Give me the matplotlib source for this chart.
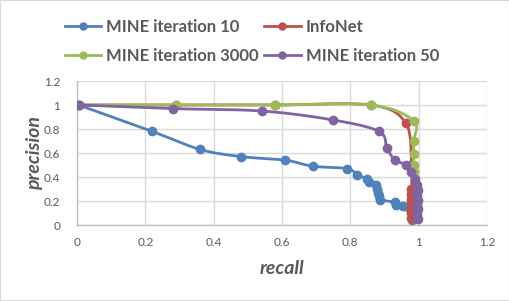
import numpy as np
import matplotlib
matplotlib.use("Agg")
import matplotlib.pyplot as plt
from matplotlib.lines import Line2D
from matplotlib.patches import Rectangle

# ---- data ----
blue_x = [0.005, 0.22, 0.36, 0.48, 0.61, 0.69, 0.79, 0.82, 0.85, 0.855, 0.875, 0.878,
          0.88, 0.885, 0.888, 0.93, 0.935, 0.955, 0.97, 0.98, 0.98, 0.98]
blue_y = [1.0, 0.78, 0.63, 0.57, 0.54, 0.49, 0.47, 0.42, 0.38, 0.36, 0.33, 0.30,
          0.27, 0.24, 0.21, 0.19, 0.17, 0.16, 0.15, 0.10, 0.07, 0.04]

red_x = [0.005, 0.29, 0.58, 0.86, 0.962, 0.979, 0.979, 0.979, 0.979, 0.979, 0.979, 0.979, 0.979]
red_y = [1.0, 1.0, 1.0, 1.0, 0.85, 0.50, 0.30, 0.26, 0.22, 0.18, 0.14, 0.10, 0.06]

green_x = [0.005, 0.29, 0.58, 0.86, 0.985, 0.985, 0.985, 0.985, 0.985]
green_y = [1.0, 1.0, 1.0, 1.0, 0.87, 0.70, 0.59, 0.50, 0.445]

purple_x = [0.005, 0.28, 0.54, 0.75, 0.884, 0.907, 0.93, 0.963, 0.978, 0.988,
            0.995, 0.999, 0.995, 0.999, 0.995, 0.999, 0.995, 0.999]
purple_y = [1.0, 0.97, 0.95, 0.875, 0.78, 0.64, 0.545, 0.50, 0.44, 0.38,
            0.33, 0.29, 0.25, 0.21, 0.17, 0.13, 0.09, 0.05]

series_names = ["MINE iteration 10", "InfoNet", "MINE iteration 3000", "MINE iteration 50"]
ticks = [0, 0.2, 0.4, 0.6, 0.8, 1, 1.2]
tick_labels = ["0", "0.2", "0.4", "0.6", "0.8", "1", "1.2"]

colors = ["#4F81BD", "#C0504D", "#9BBB59", "#8064A2"]
text_col = "#595959"
FONT = "Lato"


def smooth(xs, ys, n=20):
    """Catmull-Rom smoothing of the line through the data points (for drawing)."""
    P = np.column_stack([xs, ys]).astype(float)
    if len(P) < 3:
        return P[:, 0], P[:, 1]
    ext = np.vstack([P[0], P, P[-1]])
    out = []
    t = np.linspace(0, 1, n, endpoint=False)[:, None]
    for i in range(1, len(ext) - 2):
        p0, p1, p2, p3 = ext[i - 1], ext[i], ext[i + 1], ext[i + 2]
        c1 = p1 + (p2 - p0) / 6.0
        c2 = p2 - (p3 - p1) / 6.0
        seg = ((1 - t) ** 3) * p1 + 3 * ((1 - t) ** 2) * t * c1 + 3 * (1 - t) * t ** 2 * c2 + t ** 3 * p2
        out.append(seg)
    out.append(P[-1][None, :])
    out = np.vstack(out)
    return out[:, 0], out[:, 1]


fig = plt.figure(figsize=(5.10, 3.01), dpi=100)
ax = fig.add_axes([77 / 510, 1 - 225 / 301, (487 - 77) / 510, (225 - 81) / 301])

data = [(blue_x, blue_y), (red_x, red_y), (green_x, green_y), (purple_x, purple_y)]
for k, ((xs, ys), c) in enumerate(zip(data, colors)):
    sx, sy = smooth(xs, ys)
    ax.plot(sx, sy, color=c, lw=2, zorder=3 + k, solid_capstyle="round")
    ax.plot(xs, ys, linestyle="none", marker="o", ms=6, color=c, zorder=3 + k)

ax.set_xlim(0, 1.2)
ax.set_ylim(0, 1.2)
ax.set_xticks(ticks)
ax.set_yticks(ticks)
ax.set_xticklabels(tick_labels, fontsize=8.5, color=text_col, family=FONT)
ax.set_yticklabels(tick_labels, fontsize=8.5, color=text_col, family=FONT)
ax.tick_params(length=0, pad=9)
ax.tick_params(axis="y", pad=12)
ax.grid(True, color="#d9d9d9", lw=1)
ax.set_axisbelow(True)
for s in ["top", "right"]:
    ax.spines[s].set_visible(False)
for s in ["left", "bottom"]:
    ax.spines[s].set_color("#bfbfbf")
    ax.spines[s].set_linewidth(1)

fig.text(282 / 510, 1 - 268 / 301, "recall", ha="center", va="center",
         fontsize=14, fontweight="bold", fontstyle="italic", color=text_col, family=FONT)
fig.text(35 / 510, 1 - 153 / 301, "precision", ha="center", va="center", rotation=90,
         fontsize=14, fontweight="bold", fontstyle="italic", color=text_col, family=FONT)

handles = [Line2D([], [], color=c, lw=2, marker="o", ms=5) for c in colors]
order = [0, 2, 1, 3]
leg = fig.legend([handles[i] for i in order], [series_names[i] for i in order],
                 ncol=2, loc="center", bbox_to_anchor=(252 / 510, 1 - 41.5 / 301),
                 frameon=False, handlelength=2.2, handletextpad=0.3, columnspacing=0.3,
                 labelspacing=0.8,
                 prop={"family": FONT, "weight": "bold", "size": 12})
for t in leg.get_texts():
    t.set_color(text_col)

fig.patches.append(Rectangle((0, 0), 1, 1, transform=fig.transFigure, fill=False,
                             edgecolor="#d9d9d9", lw=1.5))

fig.savefig("out.png", dpi=100)
